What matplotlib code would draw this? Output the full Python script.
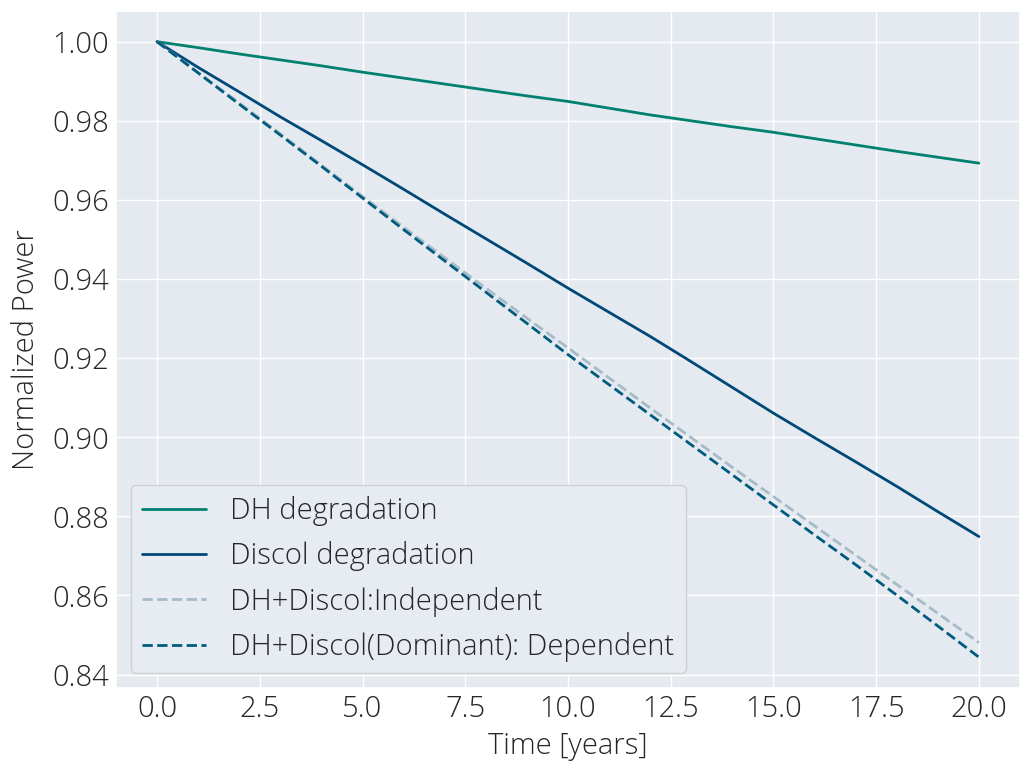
import matplotlib
matplotlib.use("Agg")
import matplotlib.pyplot as plt
import seaborn as sns

# values, one per year
years = list(range(21))
dh = [1.0000, 0.9985, 0.9969, 0.9954, 0.9939, 0.9923, 0.9908, 0.9893, 0.9878, 0.9863, 0.9849,
      0.9832, 0.9815, 0.9800, 0.9785, 0.9771, 0.9755, 0.9739, 0.9723, 0.9708, 0.9693]
discol = [1.0000, 0.9935, 0.9873, 0.9810, 0.9750, 0.9689, 0.9627, 0.9564, 0.9502, 0.9440, 0.9377,
          0.9316, 0.9255, 0.9191, 0.9126, 0.9061, 0.8999, 0.8938, 0.8876, 0.8812, 0.8749]
independent = [1.0000, 0.9922, 0.9845, 0.9767, 0.9688, 0.9609, 0.9531, 0.9454, 0.9377, 0.9301, 0.9226,
               0.9150, 0.9074, 0.8999, 0.8924, 0.8850, 0.8776, 0.8702, 0.8628, 0.8555, 0.8481]
dependent = [1.0000, 0.9921, 0.9842, 0.9764, 0.9685, 0.9605, 0.9525, 0.9446, 0.9367, 0.9288, 0.9209,
             0.9133, 0.9057, 0.8981, 0.8905, 0.8829, 0.8753, 0.8678, 0.8601, 0.8523, 0.8444]

sns.set_theme(style="darkgrid")
plt.rcParams["font.family"] = ["Open Sans", "DejaVu Sans"]
plt.rcParams["font.weight"] = "light"
plt.rcParams["axes.labelweight"] = "light"
plt.rcParams["axes.facecolor"] = "#e5e9f0"

fig = plt.figure(figsize=(10.22, 7.65), dpi=100)
ax = fig.add_axes([0.1135, 0.1007, 0.8845, 0.885])

ax.plot(years, dh, color="#00806f", lw=2, label="DH degradation")
ax.plot(years, discol, color="#004878", lw=2, label="Discol degradation")
ax.plot(years, independent, color="#a6bbc8", lw=2, ls="--", label="DH+Discol:Independent")
ax.plot(years, dependent, color="#005b7f", lw=2, ls="--", label="DH+Discol(Dominant): Dependent")

ax.set_xticks([0, 2.5, 5, 7.5, 10, 12.5, 15, 17.5, 20])
ax.set_yticks([0.84, 0.86, 0.88, 0.90, 0.92, 0.94, 0.96, 0.98, 1.00])
ax.tick_params(labelsize=21, colors="#262626", length=0, pad=5)
ax.set_xlabel("Time [years]", fontsize=21, color="#262626", labelpad=5)
ax.set_ylabel("Normalized Power", fontsize=21, color="#262626", labelpad=8)
ax.legend(loc="lower left", fontsize=21, facecolor="#e7ebf2", edgecolor="#d0d0d0",
          framealpha=1, borderaxespad=0.5, labelspacing=0.52, handlelength=2.2)

fig.savefig("out.png", dpi=100)
